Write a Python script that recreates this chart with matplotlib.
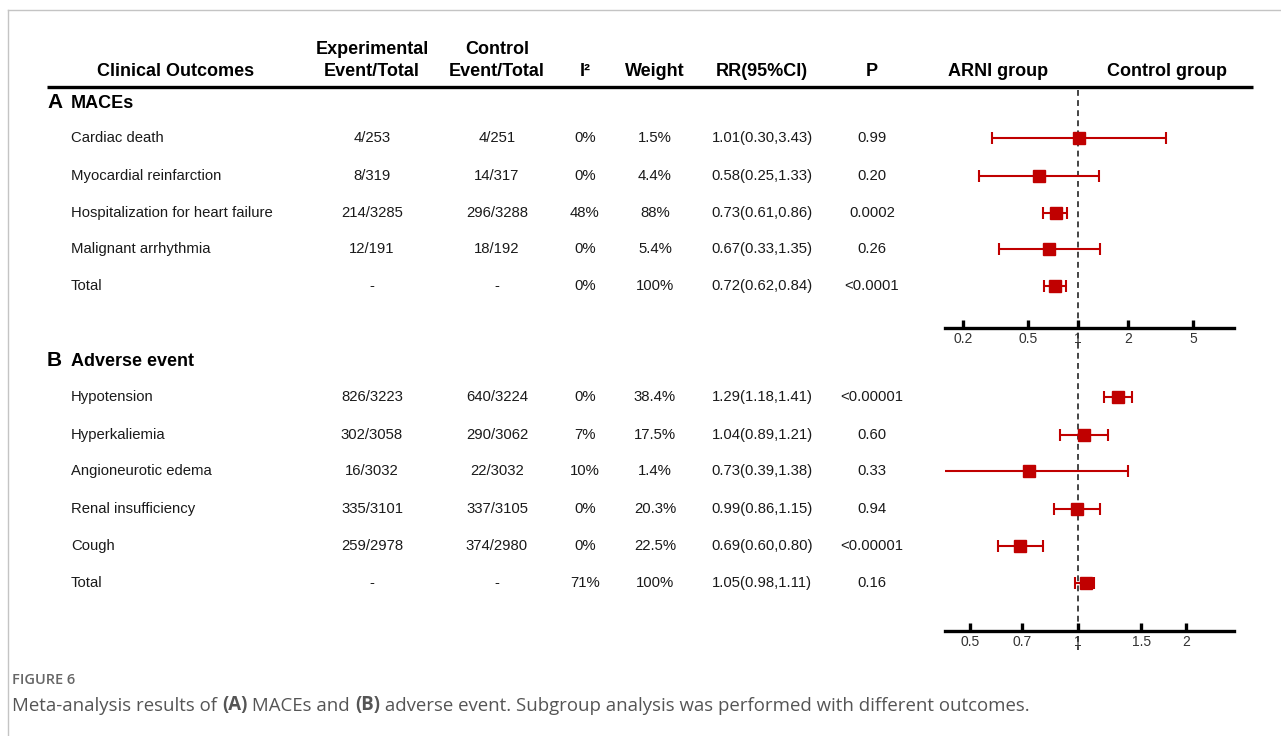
import matplotlib
matplotlib.use("Agg")
import matplotlib.pyplot as plt
from matplotlib.lines import Line2D
from matplotlib.transforms import blended_transform_factory

plt.rcParams['font.family'] = ['Liberation Sans', 'DejaVu Sans']

# ---- data -------------------------------------------------------------
mace_outcomes = ["Cardiac death", "Myocardial reinfarction",
                 "Hospitalization for heart failure", "Malignant arrhythmia", "Total"]
mace_exp = ["4/253", "8/319", "214/3285", "12/191", "-"]
mace_ctrl = ["4/251", "14/317", "296/3288", "18/192", "-"]
mace_i2 = ["0%", "0%", "48%", "0%", "0%"]
mace_weight = ["1.5%", "4.4%", "88%", "5.4%", "100%"]
mace_rr = [1.01, 0.58, 0.73, 0.67, 0.72]
mace_lo = [0.30, 0.25, 0.61, 0.33, 0.62]
mace_hi = [3.43, 1.33, 0.86, 1.35, 0.84]
mace_p = ["0.99", "0.20", "0.0002", "0.26", "<0.0001"]

ae_outcomes = ["Hypotension", "Hyperkaliemia", "Angioneurotic edema",
               "Renal insufficiency", "Cough", "Total"]
ae_exp = ["826/3223", "302/3058", "16/3032", "335/3101", "259/2978", "-"]
ae_ctrl = ["640/3224", "290/3062", "22/3032", "337/3105", "374/2980", "-"]
ae_i2 = ["0%", "7%", "10%", "0%", "0%", "71%"]
ae_weight = ["38.4%", "17.5%", "1.4%", "20.3%", "22.5%", "100%"]
ae_rr = [1.29, 1.04, 0.73, 0.99, 0.69, 1.05]
ae_lo = [1.18, 0.89, 0.39, 0.86, 0.60, 0.98]
ae_hi = [1.41, 1.21, 1.38, 1.15, 0.80, 1.11]
ae_p = ["<0.00001", "0.60", "0.33", "0.94", "<0.00001", "0.16"]

mace_ticks = [0.2, 0.5, 1, 2, 5]
ae_ticks = [0.5, 0.7, 1, 1.5, 2]

# ---- layout (pixel units, y downward) ----------------------------------
W, H = 1281, 736
mace_rows = [138, 176, 213, 249, 286]
ae_rows = [397, 435, 471, 509, 546, 583]
col_x = [372, 497, 585, 655, 762, 872]
RED = '#c00000'
TXT = '#1a1a1a'

fig = plt.figure(figsize=(W / 100, H / 100), dpi=100)
bg = fig.add_axes([0, 0, 1, 1], zorder=-5)
bg.set_xlim(0, W)
bg.set_ylim(H, 0)
bg.axis('off')

# page frame
bg.plot([8, W], [10, 10], color='#c4c4c4', lw=1)
bg.plot([8, 8], [10, H], color='#c4c4c4', lw=1)

# header
hdr = dict(fontsize=13, fontweight='bold', color='black', ha='center', va='center')
bg.text(176, 72, "Clinical Outcomes", **hdr)
bg.text(372, 50, "Experimental", **hdr)
bg.text(372, 72, "Event/Total", **hdr)
bg.text(497, 50, "Control", **hdr)
bg.text(497, 72, "Event/Total", **hdr)
bg.text(585, 72, "I²", **hdr)
bg.text(655, 72, "Weight", **hdr)
bg.text(762, 72, "RR(95%CI)", **hdr)
bg.text(872, 72, "P", **hdr)
bg.text(998, 72, "ARNI group", **hdr)
bg.text(1167, 72, "Control group", **hdr)
bg.plot([47, 1253], [87, 87], color='black', lw=2.4, solid_capstyle='butt')

# section titles
bg.text(47, 103, "A", fontsize=15, fontweight='bold', va='center')
bg.text(71, 103, "MACEs", fontsize=13, fontweight='bold', va='center')
bg.text(47, 361, "B", fontsize=15, fontweight='bold', va='center')
bg.text(71, 361, "Adverse event", fontsize=13, fontweight='bold', va='center')


def table_rows(rows, names, exp, ctrl, i2, weight, rr, lo, hi, p):
    cell = dict(fontsize=10.7, color=TXT, va='center')
    for i, y in enumerate(rows):
        bg.text(71, y, names[i], ha='left', **cell)
        ci_txt = f"{rr[i]:.2f}({lo[i]:.2f},{hi[i]:.2f})"
        for x, s in zip(col_x, [exp[i], ctrl[i], i2[i], weight[i], ci_txt, p[i]]):
            bg.text(x, y, s, ha='center', **cell)


table_rows(mace_rows, mace_outcomes, mace_exp, mace_ctrl, mace_i2,
           mace_weight, mace_rr, mace_lo, mace_hi, mace_p)
table_rows(ae_rows, ae_outcomes, ae_exp, ae_ctrl, ae_i2,
           ae_weight, ae_rr, ae_lo, ae_hi, ae_p)


def forest(y_top, y_axis, xlim, rows, rr, lo, hi, ticks):
    ax = fig.add_axes([945 / W, 1 - y_axis / H, (1234 - 945) / W, (y_axis - y_top) / H])
    ax.set_facecolor('none')
    ax.set_xscale('log')
    ax.set_xlim(*xlim)
    ax.set_ylim(y_axis, y_top)
    for s in ['top', 'right', 'left']:
        ax.spines[s].set_visible(False)
    ax.spines['bottom'].set_linewidth(2.4)
    ax.set_yticks([])
    ax.minorticks_off()
    ax.set_xticks(ticks)
    ax.set_xticklabels([f"{t:g}" for t in ticks])
    ax.tick_params(axis='x', direction='in', length=6, width=2.4, pad=3,
                   labelsize=10, labelcolor='#333333')
    err = [[v - l for v, l in zip(rr, lo)], [h - v for v, h in zip(rr, hi)]]
    ax.errorbar(rr, rows, xerr=err, fmt='s', color=RED, ecolor=RED,
                markersize=9, elinewidth=1.5, capsize=4.5, capthick=1.5)
    return ax


ax_a = forest(90, 328, (0.156, 8.8), mace_rows, mace_rr, mace_lo, mace_hi, mace_ticks)
ax_b = forest(345, 631, (0.427, 2.71), ae_rows, ae_rr, ae_lo, ae_hi, ae_ticks)

# line of no effect running through both panels
null_line = Line2D([1, 1], [90, 650], color='#444444', lw=1.4, ls=(0, (3, 2.2)),
                   transform=blended_transform_factory(ax_a.transData, bg.transData),
                   zorder=-1)
fig.add_artist(null_line)

# caption
bg.text(12, 680, "FIGURE 6", fontsize=10.5, color='#666666', family='Open Sans',
        fontweight='semibold', va='center')
cap = dict(fontsize=13.4, color='#555555', family='Open Sans', va='bottom')
parts = [("Meta-analysis results of ", 'normal'), ("(A)", 'bold'),
         (" MACEs and ", 'normal'), ("(B)", 'bold'),
         (" adverse event. Subgroup analysis was performed with different outcomes.", 'normal')]
prev = bg.text(12, 715, parts[0][0], fontweight=parts[0][1], **cap)
for s, wgt in parts[1:]:
    prev = bg.annotate(s, xy=(1, 0), xycoords=prev, fontweight=wgt, ha='left', **cap)

fig.savefig("out.png", dpi=100)
